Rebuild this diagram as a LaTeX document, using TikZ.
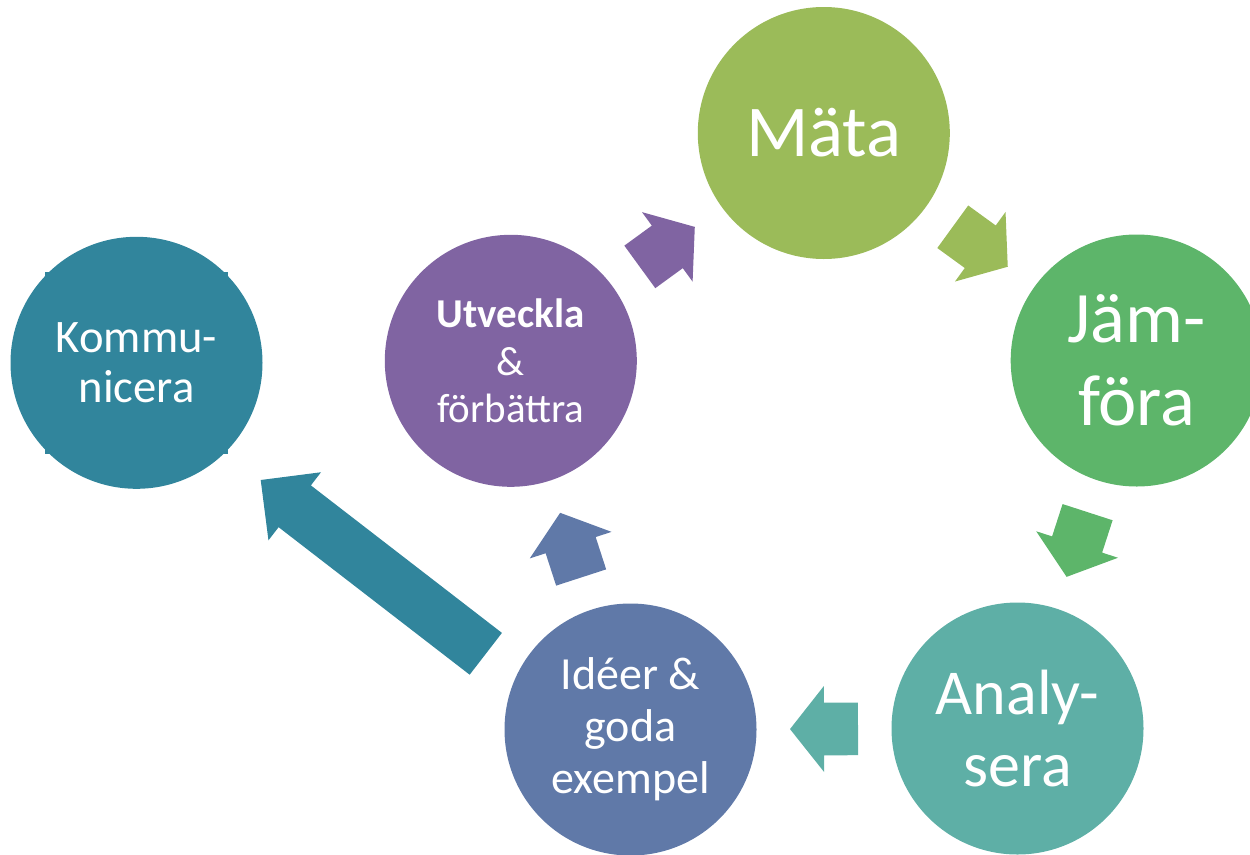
\documentclass[tikz,border=0pt]{standalone}
\usepackage{fontspec}
\setmainfont{Carlito}
\usetikzlibrary{calc}
\definecolor{cMata}{HTML}{9BBB59}
\definecolor{cJam}{HTML}{5DB56A}
\definecolor{cAna}{HTML}{5EAFA6}
\definecolor{cIde}{HTML}{6079A8}
\definecolor{cUtv}{HTML}{8064A2}
\definecolor{cKom}{HTML}{31859C}
\tikzset{
  stage/.style={circle, minimum size=252pt, inner sep=0pt, fill=#1, text=white, align=center},
}
\newcommand\fsz[2]{\fontsize{#1}{#2}\selectfont}
% block arrow: tail, tip, head length, shaft half width, head half width, colour
\newcommand\blockarrow[6]{%
  \coordinate (hb) at ($(#2)!#3!(#1)$);
  \fill[#6] ($(#1)!#4!90:(#2)$) -- ($(hb)!#4!-90:(#1)$) -- ($(hb)!#5!-90:(#1)$) -- (#2)
    -- ($(hb)!#5!90:(#1)$) -- ($(hb)!#4!90:(#1)$) -- ($(#1)!#4!-90:(#2)$) -- cycle;
}
% arrow centred between two stage circles
\newcommand\cyclearrow[3]{%
  \coordinate (#1-#2-m) at ($(#1)!0.5!(#2)$);
  \coordinate (#1-#2-t) at ($(#1-#2-m)!34pt!(#1)$);
  \coordinate (#1-#2-p) at ($(#1-#2-m)!34pt!(#2)$);
  \blockarrow{#1-#2-t}{#1-#2-p}{34pt}{26.3pt}{43pt}{#3}%
}
\begin{document}
\begin{tikzpicture}[x=1pt,y=-1pt]
\clip (0,0) rectangle (1250,854);
\node[stage=cMata, font=\fsz{73}{83}] (mata) at (823.8,133) {Mäta};
\node[stage=cJam, font=\fsz{72.5}{83}] (jam) at (1136.7,360.5) {Jäm-\\föra};
\node[stage=cAna, font=\fsz{64}{71.6}] (ana) at (1017.5,728.5) {Analy-\\sera};
\node[stage=cIde, font=\fsz{46}{52}] (ide) at (630.5,729.5) {Idéer \&\\goda\\exempel};
\node[stage=cUtv, font=\fsz{41}{47.5}] (utv) at (510.8,360.8) {\textbf{Utveckla}\\\&\\förbättra};
\node[stage=cKom, font=\fsz{46.6}{50}] (kom) at (136.5,362.8) {Kommu-\\nicera};
% small corner marks on the Kommunicera circle
\fill[cKom] (45,272) rectangle (50,277);
\fill[cKom] (223,272) rectangle (228,277);
\fill[cKom] (45,449) rectangle (50,454);
\fill[cKom] (223,449) rectangle (228,454);
% cycle arrows
\cyclearrow{utv}{mata}{cUtv}
\cyclearrow{mata}{jam}{cMata}
\cyclearrow{jam}{ana}{cJam}
\cyclearrow{ana}{ide}{cAna}
\cyclearrow{ide}{utv}{cIde}
% large arrow towards Kommunicera
\coordinate (bigtail) at (485.8,653.8);
\coordinate (bigtip) at (260.7,480);
\blockarrow{bigtail}{bigtip}{43pt}{26.4pt}{43pt}{cKom}
\end{tikzpicture}
\end{document}
